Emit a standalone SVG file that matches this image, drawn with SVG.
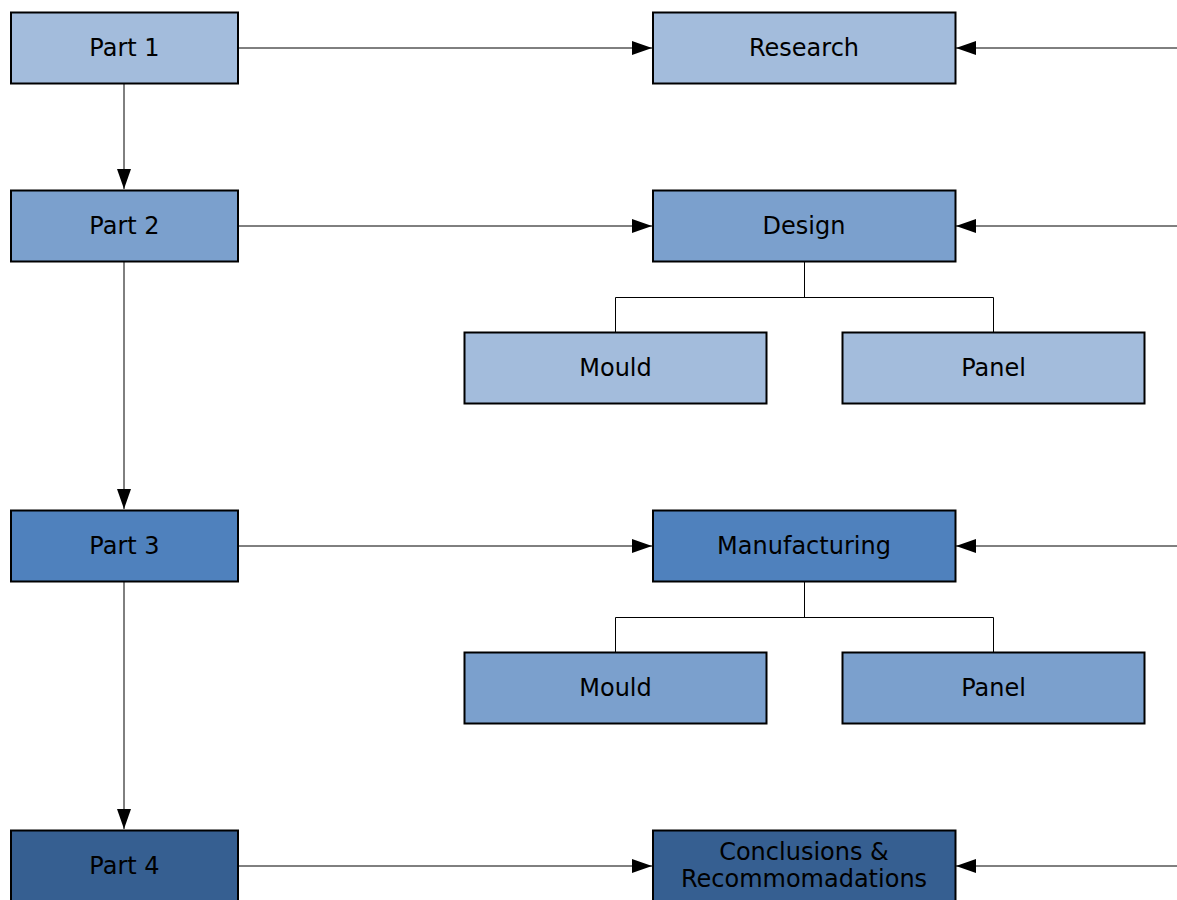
<svg xmlns="http://www.w3.org/2000/svg" width="1177" height="900" viewBox="0 0 1177 900">
<defs>
<style>
.n rect{stroke:#000;stroke-width:2}
.l1{fill:#A3BCDC}.l2{fill:#7BA0CD}.l3{fill:#4F81BD}.l4{fill:#365F91}
text{font-family:"DejaVu Sans","Verdana",sans-serif;font-size:24px;fill:#000;text-anchor:middle}
.c line,.c path{stroke:#000;stroke-width:1;fill:none}
</style>
<marker id="ah" viewBox="0 0 20 14" refX="20" refY="7" markerWidth="20" markerHeight="14" markerUnits="userSpaceOnUse" orient="auto">
<path d="M0,0 L20,7 L0,14 Z" fill="#000"/>
</marker>
</defs>
<rect width="1177" height="900" fill="#fff"/>
<g class="c" id="connectors">
<line x1="238" y1="48" x2="652" y2="48" marker-end="url(#ah)"/>
<line x1="1177" y1="48" x2="956" y2="48" marker-end="url(#ah)"/>
<line x1="238" y1="226" x2="652" y2="226" marker-end="url(#ah)"/>
<line x1="1177" y1="226" x2="956" y2="226" marker-end="url(#ah)"/>
<line x1="238" y1="546" x2="652" y2="546" marker-end="url(#ah)"/>
<line x1="1177" y1="546" x2="956" y2="546" marker-end="url(#ah)"/>
<line x1="238" y1="866" x2="652" y2="866" marker-end="url(#ah)"/>
<line x1="1177" y1="866" x2="956" y2="866" marker-end="url(#ah)"/>
<line x1="124" y1="84" x2="124" y2="189" marker-end="url(#ah)"/>
<line x1="124" y1="262" x2="124" y2="509" marker-end="url(#ah)"/>
<line x1="124" y1="582" x2="124" y2="829" marker-end="url(#ah)"/>
<path d="M804.5,262 V297.5 M615.5,332 V297.5 H993.5 V332"/>
<path d="M804.5,582 V617.5 M615.5,652 V617.5 H993.5 V652"/>
</g>
<g class="n" id="part1"><rect class="l1" x="11" y="12.5" width="227" height="71"/><text x="124.5" y="55.5">Part 1</text></g>
<g class="n" id="research"><rect class="l1" x="653" y="12.5" width="302.5" height="71"/><text x="804" y="55.5">Research</text></g>
<g class="n" id="part2"><rect class="l2" x="11" y="190.5" width="227" height="71"/><text x="124.5" y="233.5">Part 2</text></g>
<g class="n" id="design"><rect class="l2" x="653" y="190.5" width="302.5" height="71"/><text x="804" y="233.5">Design</text></g>
<g class="n" id="mould1"><rect class="l1" x="464.5" y="332.5" width="302" height="71"/><text x="615.5" y="375.5">Mould</text></g>
<g class="n" id="panel1"><rect class="l1" x="842.5" y="332.5" width="302" height="71"/><text x="993.5" y="375.5">Panel</text></g>
<g class="n" id="part3"><rect class="l3" x="11" y="510.5" width="227" height="71"/><text x="124.5" y="553.5">Part 3</text></g>
<g class="n" id="manufacturing"><rect class="l3" x="653" y="510.5" width="302.5" height="71"/><text x="804" y="553.5">Manufacturing</text></g>
<g class="n" id="mould2"><rect class="l2" x="464.5" y="652.5" width="302" height="71"/><text x="615.5" y="695.5">Mould</text></g>
<g class="n" id="panel2"><rect class="l2" x="842.5" y="652.5" width="302" height="71"/><text x="993.5" y="695.5">Panel</text></g>
<g class="n" id="part4"><rect class="l4" x="11" y="830.5" width="227" height="71"/><text x="124.5" y="873.5">Part 4</text></g>
<g class="n" id="conclusions"><rect class="l4" x="653" y="830.5" width="302.5" height="71"/><text x="804" y="860">Conclusions &amp;</text><text x="804" y="887">Recommomadations</text></g>
</svg>
